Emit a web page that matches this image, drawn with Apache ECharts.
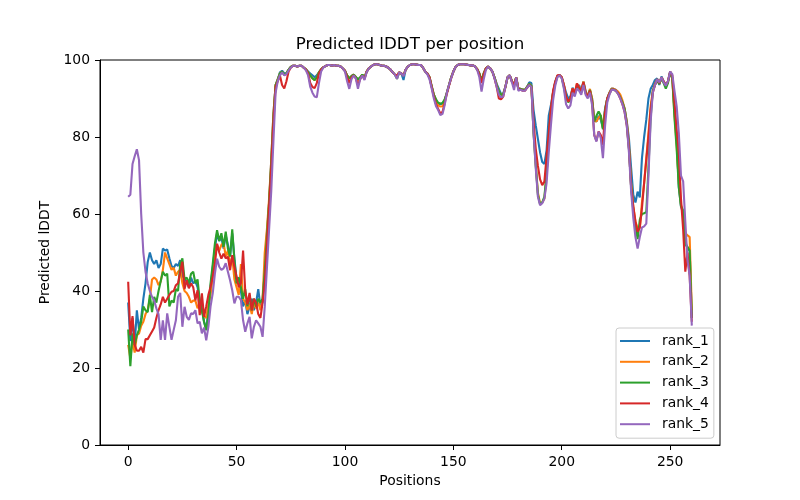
<!DOCTYPE html>
<html>
<head>
<meta charset="utf-8">
<script src="https://cdn.jsdelivr.net/npm/echarts@6/dist/echarts.min.js"></script>
<style>html,body{margin:0;padding:0;background:#fff}#c{width:800px;height:500px}</style>
</head>
<body>
<div id="c"></div>
<script>
const seriesNames = ['rank_1', 'rank_2', 'rank_3', 'rank_4', 'rank_5'];
const xTicks = [0, 50, 100, 150, 200, 250];
const yTicks = [0, 20, 40, 60, 80, 100];

const rank_1 = [
37, 27, 33, 26, 35, 30, 33, 38, 42, 47.5,
50, 48, 47, 48, 46, 47, 51, 50.5, 50.8, 48.5,
46.5, 46, 47, 46.5, 48, 44, 43, 42.5, 41, 43.5,
42, 42.5, 41, 37.5, 35.5, 32, 30, 35, 41, 46,
51, 55, 53, 54, 51, 54.5, 52, 49, 55, 48.5,
43, 43.5, 40, 36, 37.5, 34, 36, 38, 35, 37,
40.5, 36, 37, 45, 55, 63, 74, 86, 93.5, 95,
96.8, 97.2, 96.5, 96.6, 97.5, 98.2, 98.5, 98.5, 98.3, 98.5,
98.5, 98, 97.6, 97, 96.5, 96, 95.5, 96, 96.8, 97.6,
98.1, 98.4, 98.7, 98.7, 98.5, 98.7, 98.5, 98.5, 98.3, 97.8,
97.2, 96, 95.2, 95.8, 96.2, 95.6, 94.8, 95.3, 96.2, 95.4,
97, 97.8, 98.3, 98.7, 98.9, 98.9, 98.7, 98.5, 98.5, 98.3,
98, 97.5, 96.8, 96.2, 95.8, 96.8, 96.5, 94.8, 97.5, 98.3,
98.7, 98.9, 98.9, 98.8, 98.7, 98.7, 98, 97, 96.5, 95.5,
93.2, 91, 89.5, 88.7, 88.5, 88.7, 89.5, 91.5, 93.5, 95.5,
97, 98.2, 98.7, 98.9, 98.9, 98.9, 98.8, 98.7, 98.6, 98.6,
98.3, 97.6, 96.5, 94.6, 96.5, 97.8, 98.3, 97.8, 97, 95.5,
93.8, 92.5, 91.2, 91.3, 93, 95.5, 96, 94.5, 93.5, 95.5,
92.5, 92.5, 92.3, 92.2, 93, 94.2, 94, 87, 83, 79.5,
76, 73.5, 73, 76.5, 85.5, 88.3, 91.5, 94.4, 95.8, 96.1,
95.5, 93.5, 91.5, 90, 90.5, 92.8, 91.5, 93, 93.5, 92,
94.4, 92, 90.5, 92.2, 90, 84.5, 84, 85.5, 84.5, 82.3,
87.5, 90, 91.5, 92.6, 92.5, 92.2, 91.5, 90.3, 89, 87.4,
84, 79.5, 72, 65, 63, 65.8, 64.3, 74.5, 80, 84.5,
90, 92.5, 93.5, 94.8, 95.2, 93.5, 95.7, 94.5, 93.5, 94.4,
97, 95.2, 87, 80, 67, 62, 60, 53, 51, 50.5,
33
];

const rank_2 = [
26, 22.5, 27, 24, 28.5, 29, 31, 32, 34, 35,
38, 43, 43.5, 43, 41.5, 42.5, 45.5, 50, 48.5, 47,
45.5, 46, 44, 45, 45.5, 42, 40, 39.5, 38.5, 37,
37.5, 37.5, 35.5, 37, 34.5, 33.5, 33, 36.5, 39, 43.5,
49, 52, 50.5, 52, 52.5, 49, 50.5, 46.5, 49, 43,
41, 39, 47, 38, 37, 35, 36.5, 34, 37, 35.5,
37, 35, 38, 50, 56, 64, 74, 86, 93.5, 95,
96.5, 97, 96.2, 96.5, 97.5, 98.2, 98.5, 98.5, 98.3, 98.5,
98.5, 98, 97.6, 96.8, 96, 95.2, 94.8, 95.5, 96.8, 97.6,
98.1, 98.4, 98.7, 98.7, 98.5, 98.7, 98.5, 98.5, 98.3, 97.8,
97.2, 96, 95.2, 95.8, 96.2, 95.6, 94.6, 95.3, 96.2, 95.4,
97, 97.8, 98.3, 98.7, 98.9, 98.9, 98.7, 98.5, 98.5, 98.3,
98, 97.5, 96.8, 96.2, 95.6, 96.8, 96.5, 96, 97.5, 98.3,
98.7, 98.9, 98.9, 98.8, 98.7, 98.7, 98, 97, 96.5, 95.5,
93.2, 91, 89.5, 88.2, 87.9, 88, 89.5, 91.5, 93.5, 95.5,
97, 98.2, 98.7, 98.9, 98.9, 98.9, 98.8, 98.7, 98.6, 98.6,
98.3, 97.6, 96.5, 94.4, 96.5, 97.8, 98.3, 97.8, 97, 95.5,
93.5, 91.8, 91, 91, 93, 95.5, 96, 94.5, 93.5, 95.5,
92.5, 92.5, 92.3, 92.2, 93, 93.8, 93.3, 81.5, 73, 65.5,
62.8, 63, 64, 70, 79.5, 86.6, 91.5, 94, 95.8, 96,
95.5, 93.5, 90.5, 89.2, 90, 92.6, 91.3, 93.9, 93, 92,
94.4, 91.8, 90.5, 92.5, 90, 84.5, 84, 85, 85.7, 82.3,
87, 90, 91.5, 92.6, 92.5, 92.2, 91.8, 91, 89.5, 87.4,
84, 78, 68, 62, 58, 56.3, 56.3, 63, 68, 74.5,
81, 88, 92, 93.8, 95, 93.8, 95.5, 94.3, 93.2, 94.4,
96.8, 95.3, 86, 78, 68, 62.5, 60, 55, 54.5, 54,
35
];

const rank_3 = [
30, 20.5, 29, 26, 28.5, 30, 32, 36, 35, 34.5,
39, 34.5, 38.5, 37, 40, 42.5, 45, 44, 44.5, 36,
37.5, 37, 40.5, 40, 47, 48.5, 43, 43.5, 42, 44.5,
45, 42, 43, 37.5, 35, 32, 29.8, 34, 42, 47,
52.3, 55.8, 53, 55, 51.5, 55.4, 51, 49, 56, 48,
42, 43.5, 41, 38, 40.5, 36, 39, 35, 38, 36,
38, 37, 38, 45, 54, 63, 73, 85, 93.5, 95,
96.5, 97, 96.2, 96.5, 97.5, 98.2, 98.5, 98.5, 98.3, 98.5,
98.5, 98, 97.6, 96.8, 96, 95.2, 94.8, 95.5, 96.8, 97.6,
98.1, 98.4, 98.7, 98.7, 98.5, 98.7, 98.5, 98.5, 98.3, 97.8,
97.2, 96, 95.2, 95.8, 96.2, 95.6, 95, 95.5, 96.2, 95.4,
97, 97.8, 98.3, 98.7, 98.9, 98.9, 98.7, 98.5, 98.5, 98.3,
98, 97.5, 96.8, 96.2, 95.1, 96.8, 96.5, 96, 97.5, 98.3,
98.7, 98.9, 98.9, 98.8, 98.7, 98.7, 98, 97, 96.5, 95.5,
93.2, 91, 89.8, 88.9, 88.7, 88.8, 89.8, 91.5, 93.5, 95.5,
97, 98.2, 98.7, 98.9, 98.9, 98.9, 98.8, 98.7, 98.6, 98.6,
98.3, 97.6, 96.5, 94.8, 96.5, 97.8, 98.3, 97.8, 97, 95.5,
93.5, 91.8, 91, 91, 93, 95.5, 96, 94.5, 93.5, 95.5,
92.5, 92.5, 92.3, 92.2, 93, 93.8, 93.3, 81, 72.7, 65,
62.5, 63, 64.5, 70.5, 79.7, 86.6, 91.5, 94, 95.8, 96,
95.3, 93, 90, 89, 89.8, 92.3, 91, 93, 92.8, 91.5,
94, 91.5, 90.3, 92.2, 89.5, 84, 85.5, 86.6, 85.5, 82,
87, 90, 91.3, 92.4, 92.3, 92, 91.3, 90.3, 89, 87.2,
83.5, 77, 67, 61, 57, 53.5, 58.5, 60, 60.2, 60.5,
72, 85, 92, 93.5, 94.8, 93.8, 95.2, 94, 92.6, 94,
96.8, 95.3, 85, 77, 67, 62, 61, 52, 51.5, 50.5,
33
];

const rank_4 = [
42.4, 28.5, 33.5, 26, 24.5, 24.5, 25.5, 24, 27.5, 27.5,
28.5, 29.5, 30.5, 33, 35, 36.5, 38.5, 37, 38, 39,
39.8, 40, 41.5, 42, 45, 47.6, 40.5, 42.8, 40.7, 42,
41, 37.6, 40.2, 33.7, 39.4, 33.3, 36, 39, 41.1, 43.7,
47, 52.3, 50, 48.4, 49.7, 48.5, 48.9, 45.4, 49.3, 46.3,
43.7, 41, 42, 50.5, 40, 36.5, 39.5, 35, 38, 37,
34, 33, 37, 42, 52, 62, 72, 84, 93, 94.5,
96, 93.5, 92.6, 94.5, 97, 98, 98.5, 98.5, 98.3, 98.5,
98.5, 98, 97.5, 96.5, 94, 93, 92.7, 94, 96.5, 97.5,
98.1, 98.4, 98.7, 98.7, 98.5, 98.7, 98.5, 98.5, 98.3, 97.8,
97.2, 95.5, 94, 95.5, 96, 95.2, 93.5, 95, 96, 95,
97, 97.8, 98.3, 98.7, 98.9, 98.9, 98.7, 98.5, 98.5, 98.3,
98, 97.5, 96.8, 96.2, 96, 96.8, 96.5, 96, 97.5, 98.3,
98.7, 98.9, 98.9, 98.8, 98.7, 98.7, 98, 97, 96.5, 95.5,
93, 90.5, 88.5, 87.3, 86.1, 86.5, 88.8, 91.2, 93.3, 95.3,
97, 98.2, 98.7, 98.9, 98.9, 98.9, 98.8, 98.7, 98.6, 98.6,
98.3, 97.6, 96.2, 94, 96.3, 97.8, 98.3, 97.8, 97, 95.2,
93, 90, 89.8, 90.5, 93, 95.5, 96, 94.5, 93.5, 95.5,
92.5, 92.3, 92, 92, 92.8, 93.5, 93, 84, 77, 72.5,
69, 67.5, 68.4, 75, 81, 87.4, 92, 94.4, 96, 96.1,
95.5, 93.5, 90.5, 89.2, 90, 92.6, 91.3, 93.9, 92.8, 92,
94.2, 91.5, 90.3, 92, 89, 80.5, 79, 81.4, 80.5, 78,
86.5, 90, 91.3, 92.3, 92.3, 92, 91.3, 90, 88.5, 86.5,
83, 77, 67, 62, 58, 55.4, 56.5, 61.5, 68, 74,
80, 87, 91.5, 93.5, 95, 94, 95.5, 94.5, 93.5, 94.5,
97, 96, 89, 82, 76, 64, 56, 45, 50, 44,
32
];

const rank_5 = [
64.5, 65, 73, 75, 76.8, 74, 60, 50, 45, 42,
40, 38.5, 37.5, 35.5, 34, 27.3, 32.4, 27.3, 34.2, 30.7,
27.3, 29.9, 32.4, 38.5, 39.5, 30.7, 35.9, 33.3, 32.5, 34.2,
34, 35, 31.6, 32, 29, 30.5, 27.2, 30.7, 36, 39.4,
44.5, 48.4, 46.3, 45.5, 45.9, 47.2, 45, 42.8, 40.2, 36.8,
38.5, 38.5, 37.6, 32.4, 29.4, 31.6, 33.3, 27.7, 30.7, 32.4,
31.6, 30.7, 28.1, 36, 46, 56, 66, 79, 91.5, 94.5,
96, 96.8, 96, 96.3, 97.3, 98, 98.5, 98.5, 98.3, 98.5,
98.5, 98, 97.3, 96, 93, 91.5, 90.5, 90.3, 94, 97,
98, 98.4, 98.7, 98.7, 98.5, 98.7, 98.5, 98.5, 98.3, 97.8,
97, 94.5, 92.5, 95, 96, 95.2, 92.5, 95, 96, 94.8,
96.8, 97.8, 98.3, 98.7, 98.9, 98.9, 98.7, 98.5, 98.5, 98.3,
98, 97.5, 96.8, 96.2, 95.1, 96.8, 96.5, 95.8, 97.5, 98.3,
98.7, 98.9, 98.9, 98.8, 98.7, 98.7, 98, 97, 96.3, 95,
92.6, 90, 88, 87, 85.7, 86, 88.3, 91.5, 93.5, 95.3,
97, 98.2, 98.7, 98.9, 98.9, 98.9, 98.8, 98.7, 98.6, 98.6,
98.3, 97.4, 95.5, 91.8, 95, 97.4, 98.3, 97.8, 97, 95.2,
93, 91, 90.3, 90.5, 93, 95.5, 96, 94.2, 92.2, 95.5,
92, 92.3, 92, 92, 92.8, 93.5, 93, 81, 72, 64.5,
62.3, 62.8, 64, 68, 76, 83, 89.5, 93.3, 95.5, 96,
95.2, 92.5, 88.5, 87.4, 88.2, 91.5, 90.5, 92.6, 92, 91,
93.5, 91, 90, 91.5, 88.3, 80.5, 78.8, 81.4, 79.7, 74.5,
83, 89, 91, 92.3, 92.2, 92, 91.2, 90, 88.5, 86.5,
83, 76, 66, 59, 54, 51, 54, 56.5, 56.8, 57.5,
70, 84, 91.5, 93.5, 95, 94.2, 95.5, 94.2, 93.3, 94.5,
97, 96.3, 92, 88, 81, 70, 68.5, 58, 48, 44,
31
];

const positions = rank_1.map((_, i) => i);
const allValues = [rank_1, rank_2, rank_3, rank_4, rank_5];
const colors = ['#1f77b4', '#ff7f0e', '#2ca02c', '#d62728', '#9467bd'];

const font = 'DejaVu Sans';
const chart = echarts.init(document.getElementById('c'), null, {renderer: 'canvas'});
chart.setOption({
  animation: false,
  backgroundColor: '#ffffff',
  textStyle: {fontFamily: font},
  title: {
    text: 'Predicted lDDT per position',
    left: 410, top: 36, padding: 0, textAlign: 'center',
    textStyle: {fontFamily: font, fontSize: 16.7, fontWeight: 'normal', color: '#000'}
  },
  grid: {left: 100, right: 80, top: 60, bottom: 55, show: true, borderColor: '#000', borderWidth: 1, backgroundColor: 'transparent'},
  xAxis: {
    type: 'value', min: -13, max: 273,
    name: 'Positions', nameLocation: 'middle', nameGap: 28,
    nameTextStyle: {fontFamily: font, fontSize: 13.9, color: '#000'},
    axisLine: {show: true, onZero: false, lineStyle: {color: '#000', width: 1}},
    axisTick: {show: true, inside: false, length: 5, lineStyle: {color: '#000', width: 1}, customValues: xTicks},
    axisLabel: {customValues: xTicks, fontFamily: font, fontSize: 13.9, color: '#000', margin: 10},
    splitLine: {show: false}
  },
  yAxis: {
    type: 'value', min: 0, max: 100, interval: 20,
    name: 'Predicted lDDT', nameLocation: 'middle', nameGap: 43, nameRotate: 90,
    nameTextStyle: {fontFamily: font, fontSize: 13.9, color: '#000'},
    axisLine: {show: true, onZero: false, lineStyle: {color: '#000', width: 1}},
    axisTick: {show: true, inside: false, length: 5, lineStyle: {color: '#000', width: 1}, customValues: yTicks},
    axisLabel: {customValues: yTicks, fontFamily: font, fontSize: 13.9, color: '#000', margin: 10},
    splitLine: {show: false}
  },
  legend: {
    data: seriesNames,
    orient: 'vertical', left: 616, top: 328,
    icon: 'path://M0,0H30V2H0Z',
    padding: [6, 5, 7, 4], itemGap: 6.8, itemWidth: 30, itemHeight: 2,
    borderColor: '#cccccc', borderWidth: 1, borderRadius: 3,
    backgroundColor: 'rgba(255,255,255,0.8)',
    textStyle: {fontFamily: font, fontSize: 13.9, lineHeight: 14, color: '#000', padding: [0, 0, 0, 7]}
  },
  series: allValues.map((vals, k) => ({
    name: seriesNames[k],
    type: 'line',
    symbol: 'none', showSymbol: false,
    color: colors[k],
    lineStyle: {color: colors[k], width: 2.1},
    data: vals.map((v, i) => [positions[i], v])
  }))
});
</script>
</body>
</html>
